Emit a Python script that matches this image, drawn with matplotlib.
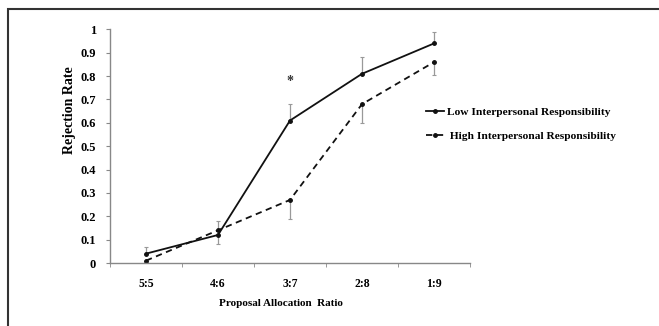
import matplotlib
matplotlib.use("Agg")
import matplotlib.pyplot as plt
from matplotlib.patches import Rectangle
from matplotlib.lines import Line2D
import numpy as np

categories = ["5:5", "4:6", "3:7", "2:8", "1:9"]
low_vals = [0.04, 0.12, 0.61, 0.81, 0.94]
high_vals = [0.01, 0.14, 0.27, 0.68, 0.86]
low_err_up = [0.03, 0.0, 0.07, 0.07, 0.05]
low_err_down = [0.0, 0.04, 0.0, 0.0, 0.0]
high_err_up = [0.0, 0.04, 0.0, 0.0, 0.0]
high_err_down = [0.01, 0.0, 0.08, 0.08, 0.055]
yticks = [0, 0.1, 0.2, 0.3, 0.4, 0.5, 0.6, 0.7, 0.8, 0.9, 1]
ytick_labels = ["0", "0.1", "0.2", "0.3", "0.4", "0.5", "0.6", "0.7", "0.8", "0.9", "1"]

plt.rcParams['font.family'] = ['Liberation Serif', 'DejaVu Serif']
plt.rcParams['font.weight'] = 'bold'

fig = plt.figure(figsize=(6.59, 3.26), dpi=100)
W, H = 659, 326
fig.patches.append(Rectangle((8 / W, -0.1), 1.2, 1 - 9 / H + 0.1, transform=fig.transFigure,
                             fill=False, edgecolor="#333333", linewidth=1.5))

ax = fig.add_axes([110 / W, (H - 263) / H, (470 - 110) / W, (263 - 29.4) / H])
x = np.arange(len(categories))

ax.errorbar(x, low_vals, yerr=[low_err_down, low_err_up], fmt='none', ecolor='#999999',
            elinewidth=0.9, capsize=1.5, capthick=0.8)
ax.errorbar(x, high_vals, yerr=[high_err_down, high_err_up], fmt='none', ecolor='#999999',
            elinewidth=0.9, capsize=1.5, capthick=0.8)
ax.plot(x, low_vals, color='#111111', linestyle='-', linewidth=1.3, marker='o', markersize=2.5)
ax.plot(x, high_vals, color='#111111', linestyle=(0, (3.5, 2.5)), linewidth=1.3, marker='o', markersize=2.5)

ax.text(2, 0.775, "*", ha='center', va='center', fontsize=10, color='#333333')

ax.set_xlim(-0.5, 4.5)
ax.set_ylim(0, 1)
ax.set_xticks(x)
ax.set_xticklabels(categories, fontsize=8.5)
ax.set_xticks(np.arange(-0.5, 5.0, 1.0), minor=True)
ax.tick_params(axis='x', which='major', length=0, pad=11)
ax.tick_params(axis='x', which='minor', length=3, color='#888888', direction='out')
ax.set_yticks(yticks)
ax.set_yticklabels(ytick_labels, fontsize=9)
ax.tick_params(axis='y', length=3, color='#888888', direction='out', pad=7)
for s in ['top', 'right']:
    ax.spines[s].set_visible(False)
for s in ['left', 'bottom']:
    ax.spines[s].set_color('#888888')
    ax.spines[s].set_linewidth(1.0)

fig.text(70 / W, 1 - 110 / H, "Rejection Rate", rotation=90, ha='center', va='center',
         fontsize=10, fontweight='bold')
fig.text(281 / W, 1 - 303 / H, "Proposal Allocation  Ratio", ha='center', va='center',
         fontsize=8, fontweight='bold')

handles = [Line2D([0], [0], color='#111111', linestyle='-', linewidth=1.3, marker='o', markersize=2.5),
           Line2D([0], [0], color='#111111', linestyle=(0, (3.5, 2.5)), linewidth=1.3, marker='o', markersize=2.5)]
leg = fig.legend(handles, ["Low Interpersonal Responsibility", " High Interpersonal Responsibility"],
                 loc='upper left', bbox_to_anchor=(416 / W, 1 - 97 / H), frameon=False,
                 fontsize=8.2, handlelength=1.6, handletextpad=0.2, labelspacing=1.2)

fig.savefig("out.png", dpi=100)
